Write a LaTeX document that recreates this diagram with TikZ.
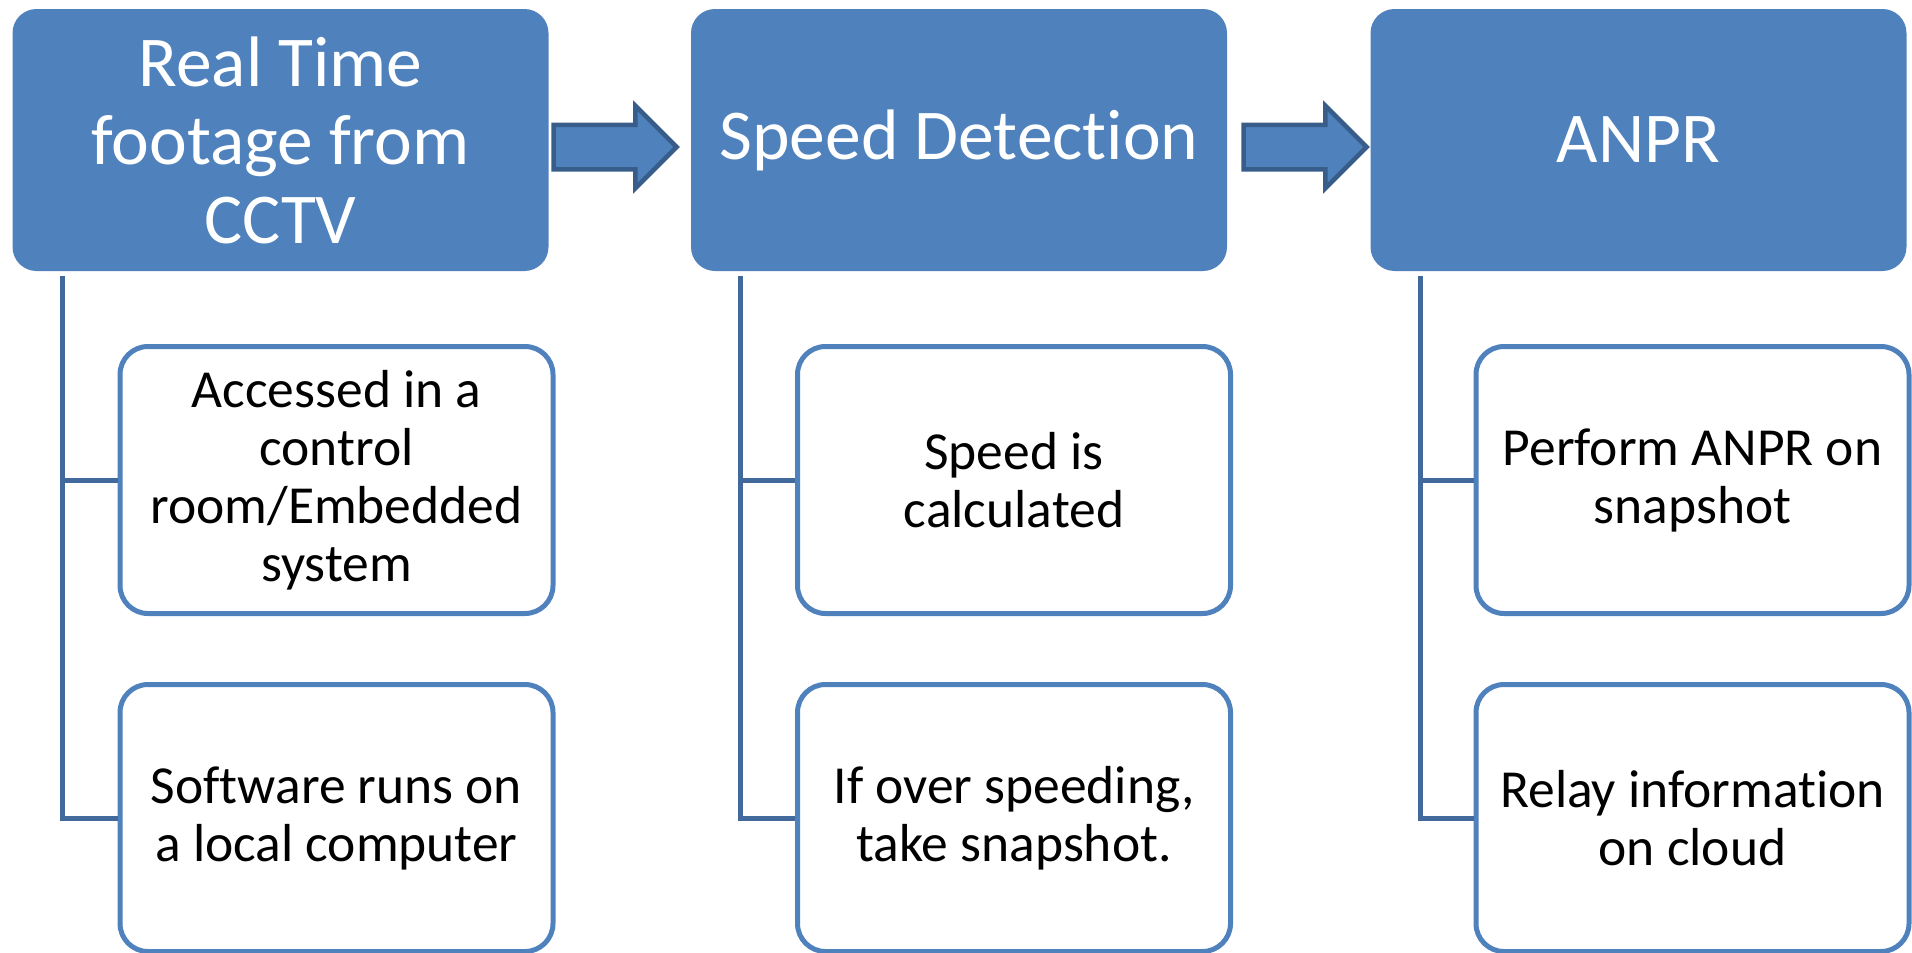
\documentclass[tikz,border=0pt]{standalone}
\usepackage{fontspec}
\setmainfont{Carlito}[Ligatures=NoCommon]
\usetikzlibrary{shapes.arrows}
\definecolor{headblue}{HTML}{4F81BD}
\definecolor{lineblue}{HTML}{41699C}
\definecolor{edgeblue}{HTML}{385D8A}
\begin{document}
\begin{tikzpicture}[x=1pt, y=-1pt,
            head/.style={fill=headblue, rounded corners=24pt, minimum width=536pt, minimum height=262pt,
                text=white, align=center, font=\fontsize{71.5}{78.5}\selectfont},
            sub/.style={draw=headblue, line width=5pt, fill=white, rounded corners=28pt, minimum width=433pt,
                minimum height=267pt, align=center, font=\fontsize{53.5}{58}\selectfont},
            flow/.style={single arrow, draw=edgeblue, fill=headblue, line width=4.5pt, minimum height=123pt,
                inner xsep=0pt, inner ysep=20pt, single arrow head extend=19pt},
            link/.style={draw=lineblue, line width=5pt}]
            \useasboundingbox (0,0) rectangle (1912,953);

            \node[head] (capture) at (280.5,140) {Real Time\\footage from\\CCTV};
            \node[head] (speed) at (959,140) {Speed Detection};
            \node[head] (anpr) at (1638.5,140) {ANPR};

            \node[flow] (toSpeed) at (604,147) {};
            \node[flow] (toAnpr) at (1294,147) {};

            \node[sub] (access) at (336.5,480) {Accessed in a\\control\\room/Embedded\\system};
            \node[sub] (local) at (336.5,818) {Software runs on\\a local computer};
            \node[sub] (calc) at (1014,480) {Speed is\\calculated};
            \node[sub] (snap) at (1014,818) {If over speeding,\\take snapshot.};
            \node[sub] (plate) at (1692.5,480) {Perform ANPR on\\snapshot};
            \node[sub] (cloud) at (1692.5,818) {Relay information\\on cloud};

            \draw[link] ([xshift=50pt, yshift=-5pt]capture.south west) |- (local.west);
            \draw[link] ([xshift=50pt, yshift=-5pt]capture.south west) |- (access.west);
            \draw[link] ([xshift=50pt, yshift=-5pt]speed.south west) |- (snap.west);
            \draw[link] ([xshift=50pt, yshift=-5pt]speed.south west) |- (calc.west);
            \draw[link] ([xshift=50pt, yshift=-5pt]anpr.south west) |- (cloud.west);
            \draw[link] ([xshift=50pt, yshift=-5pt]anpr.south west) |- (plate.west);
        \end{tikzpicture}
\end{document}
